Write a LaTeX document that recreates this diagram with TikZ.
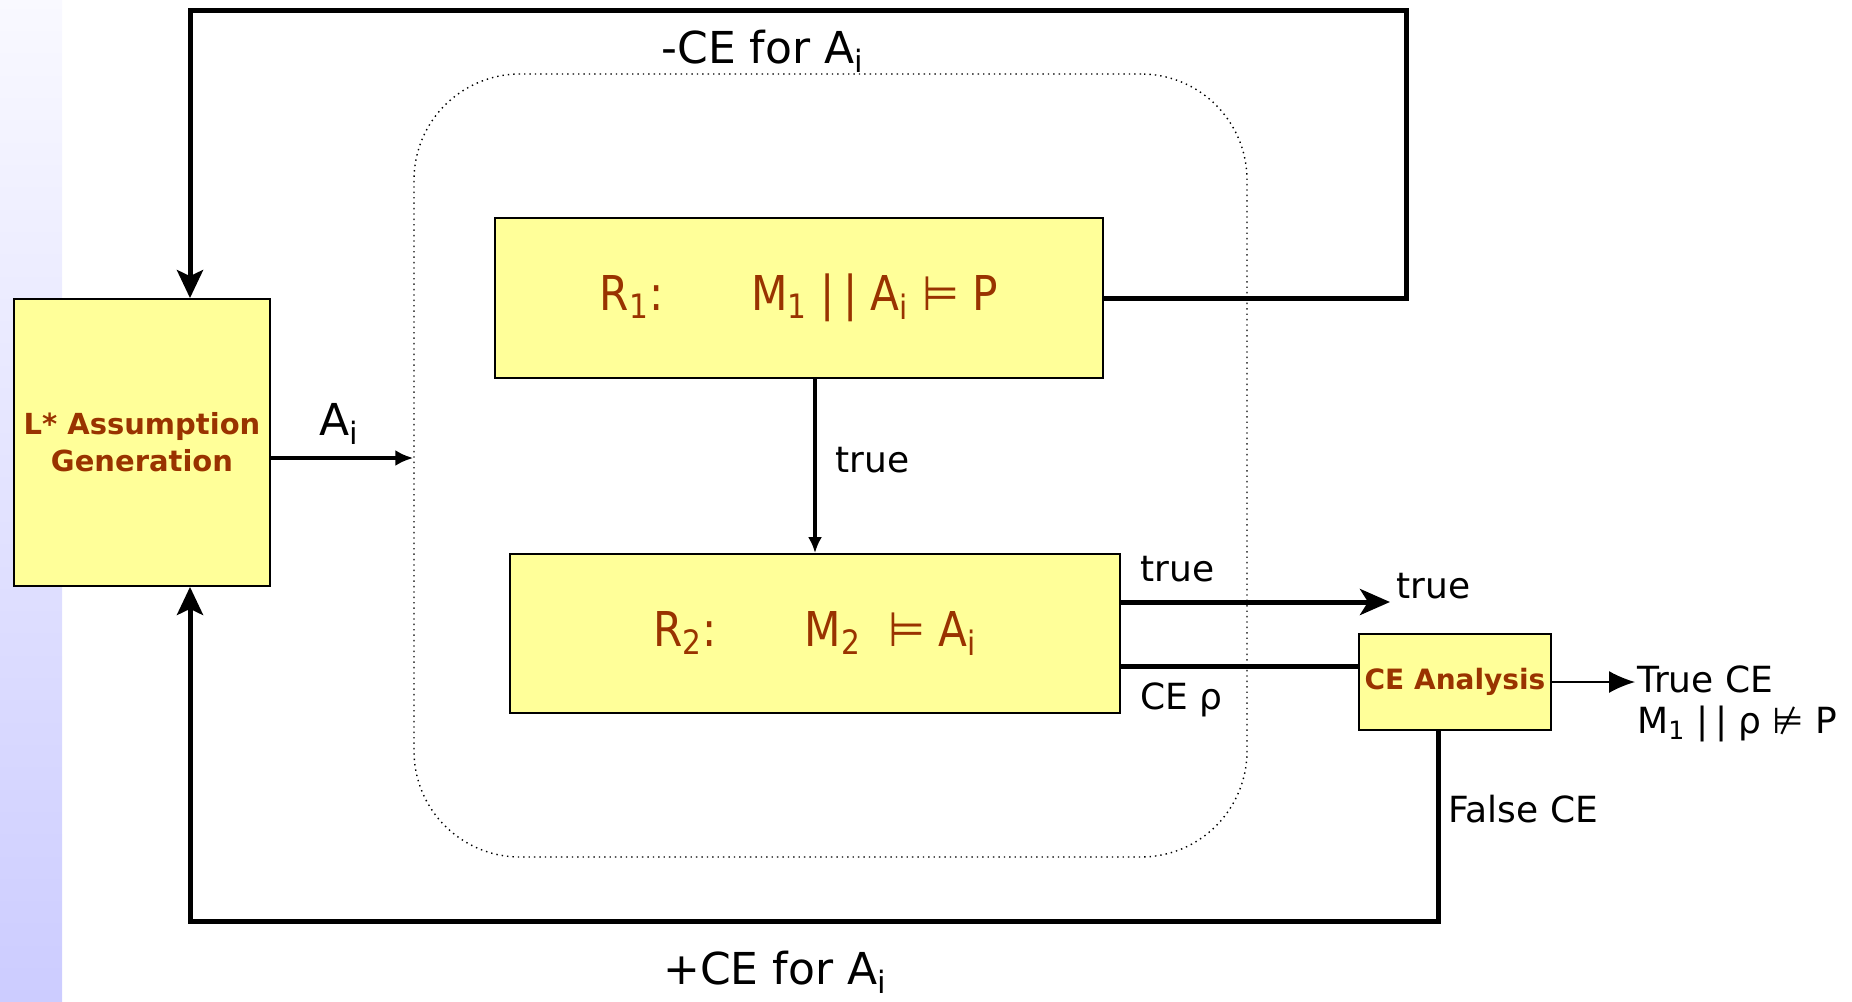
\documentclass[tikz,border=0pt]{standalone}
\usepackage{fontspec}
\setmainfont{DejaVu Sans}
\newfontfamily\stepfont[FakeStretch=0.88]{DejaVu Sans}
\usetikzlibrary{arrows.meta}
\definecolor{agfill}{HTML}{FFFF99}
\definecolor{agbrown}{HTML}{993300}
\definecolor{agstrip}{HTML}{CCCCFF}
\newcommand{\lowidx}[1]{\textsubscript{#1}}
\tikzset{
  agbox/.style={rectangle, draw, fill=agfill, line width=0.9pt, inner sep=0pt,
                align=center, text=agbrown},
  agstep/.style={agbox, font=\stepfont\fontsize{24}{29}\selectfont},
  agtask/.style={agbox, font=\bfseries\fontsize{14.5}{18.5}\selectfont},
  aglink/.style={draw, line width=2.5pt},
  agloop/.style={aglink, -{Stealth[length=14pt, width=13pt, inset=3pt]}},
  aglabel/.style={anchor=base west, inner sep=0pt, font=\fontsize{18}{22}\selectfont},
  agbig/.style={aglabel, font=\fontsize{22}{26}\selectfont}
}

\begin{document}
\begin{tikzpicture}[x=0.5pt, y=-0.5pt]
  \useasboundingbox (0,0) rectangle (1852,1001);
  % side strip
  \shade[top color=agstrip!12, bottom color=agstrip] (0,0) rectangle (62,1001);

  % the teacher: two checks inside a dotted frame
  \node[draw, dotted, line width=0.7pt, rounded corners=53pt,
        minimum width=416.5pt, minimum height=391.5pt] (frame) at (830.5,465.5) {};
  \node[agtask, minimum width=128pt, minimum height=143.5pt] (lstar) at (142,442.5)
    {L* Assumption\\Generation};
  \node[agstep, minimum width=304pt, minimum height=80pt] (r1) at (799,298)
    {R\lowidx{1}:\hspace{44pt}M\lowidx{1} |\,| A\lowidx{i} ⊨ P};
  \node[agstep, minimum width=305pt, minimum height=79.5pt] (r2) at (815,633.5)
    {R\lowidx{2}:\hspace{44pt}M\lowidx{2}\ \ ⊨ A\lowidx{i}};
  \node[agtask, font=\bfseries\fontsize{14}{17}\selectfont,
        minimum width=96pt, minimum height=48pt] (cea) at (1455,682) {CE Analysis};

  % name/x/baseline/text
  \foreach \n/\x/\y/\t in {%
      trueone/835/472/true, truetwo/1140/581/true, trueout/1396/598/true,
      cerho/1140/709/CE ρ, truece/1637/692/True CE,
      notp/1637/733/M\lowidx{1} |\,| ρ ⊭ P, falsece/1448/822/False CE}
    { \node[aglabel] (\n) at (\x,\y) {\t}; }
  \foreach \n/\x/\y/\t in {%
      ailabel/319/435/A\lowidx{i}, negce/661/63/-CE for A\lowidx{i},
      posce/663/984/+CE for A\lowidx{i}}
    { \node[agbig] (\n) at (\x,\y) {\t}; }

  % loop corners and ends
  \coordinate (looptr) at (1406.6,10.6);
  \coordinate (loopbl) at (190,921);
  \coordinate (ltop) at ([xshift=24pt]lstar.north);
  \coordinate (lbot) at ([xshift=24pt]lstar.south);
  \coordinate (lout) at ([yshift=-7.75pt]lstar.east);
  \coordinate (cefoot) at ([xshift=-8.5pt]cea.south);
  \coordinate (r2hi) at ([yshift=15.75pt]r2.east);
  \coordinate (r2lo) at ([yshift=-16.25pt]r2.east);

  \draw[agloop] (r1.east) -| (looptr) -| (ltop);
  \draw[agloop] (cefoot) |- (loopbl) -- (lbot);
  \draw[line width=2pt, -{Latex[length=9pt, width=8pt]}] (lout) -- (lout -| frame.west);
  \draw[line width=2pt, -{Latex[length=8pt, width=7pt]}] (r2.north |- r1.south) -- (r2.north);
  \draw[aglink, -{Stealth[length=15pt, width=13pt, inset=4pt]}, shorten >=3pt]
    (r2hi) -- (r2hi -| trueout.west);
  \draw[aglink] (r2lo) -- (r2lo -| cea.west);
  \draw[line width=0.8pt, -{Latex[length=13pt, width=11pt]}, shorten >=1pt]
    (cea.east) -- (cea.east -| truece.west);
\end{tikzpicture}
\end{document}
